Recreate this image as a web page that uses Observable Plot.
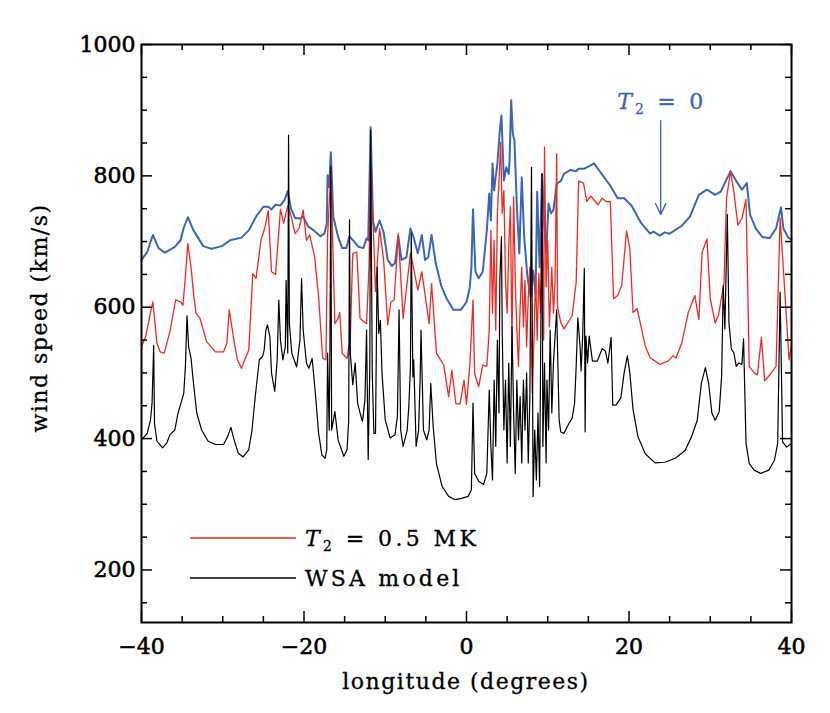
<!DOCTYPE html>
<html><head><meta charset="utf-8">
<script src="https://cdn.jsdelivr.net/npm/d3@7"></script>
<script src="https://cdn.jsdelivr.net/npm/@observablehq/plot@0.6"></script>
<style>body{margin:0;background:#fff} #chart svg{font-family:"DejaVu Serif",serif}</style>
</head><body><div id="chart"></div>
<script>
// T2 = 0 (blue)
const blueLon=[-40.0,-39.3,-38.6,-37.9,-37.1,-35.9,-35.2,-34.8,-34.3,-33.6,-32.4,-31.4,-30.1,-29.1,-27.7,-26.8,-26.2,-25.8,-25.0,-24.4,-24.0,-23.5,-22.9,-22.4,-22.0,-21.6,-21.1,-20.5,-20.1,-19.5,-18.8,-18.0,-17.5,-17.2,-17.1,-16.9,-16.7,-16.4,-15.8,-15.3,-14.8,-14.4,-13.9,-13.3,-12.7,-12.3,-12.1,-11.8,-11.5,-11.2,-10.7,-10.2,-9.7,-9.2,-8.8,-8.4,-8.0,-7.4,-6.9,-6.5,-6.0,-5.5,-5.1,-4.7,-4.3,-3.8,-3.1,-2.4,-1.6,-0.7,0.0,0.4,0.6,0.8,1.1,1.5,2.0,2.5,2.8,3.0,3.2,3.4,3.8,4.1,4.3,4.6,4.9,5.2,5.3,5.5,5.7,5.9,6.2,6.5,6.8,7.1,7.5,7.9,8.2,8.5,8.7,9.0,9.3,9.5,9.8,10.1,10.4,10.7,11.1,11.6,12.0,12.4,12.8,13.5,13.8,14.5,15.0,15.7,16.7,17.7,18.6,19.4,20.3,21.5,22.6,23.0,23.8,24.4,25.0,26.5,27.5,28.6,29.6,30.6,31.3,31.9,32.5,33.2,33.9,34.5,34.9,35.6,36.4,37.3,38.1,38.7,39.0,39.6,40.0];
const blueV=[672,684,710,690,683,692,702,721,737,717,693,689,693,702,706,717,731,740,753,753,749,756,755,763,777,750,736,735,738,723,717,708,712,727,801,783,836,738,707,690,690,708,701,692,690,705,702,874,730,715,732,714,672,663,667,708,672,676,720,706,682,710,672,676,710,668,632,612,596,596,608,630,660,749,654,644,654,717,773,732,819,778,819,869,892,793,813,803,824,915,864,854,753,682,798,707,646,616,656,621,776,661,803,743,682,758,743,748,788,792,803,806,809,807,811,811,814,819,802,785,766,766,755,728,712,715,709,714,712,724,738,771,779,771,776,792,807,792,779,789,741,720,707,705,720,752,720,706,703];
// T2 = 0.5 MK (red)
const redLon=[-40.0,-39.5,-38.9,-38.6,-38.1,-37.7,-37.2,-36.5,-35.8,-35.2,-34.9,-34.6,-34.3,-33.9,-33.6,-33.3,-32.8,-32.0,-30.9,-29.9,-29.5,-29.2,-28.6,-28.2,-27.7,-26.8,-26.3,-25.9,-25.3,-24.8,-24.4,-24.0,-23.5,-22.9,-22.5,-22.0,-21.6,-21.1,-20.6,-20.1,-19.7,-19.3,-18.7,-18.2,-17.7,-17.3,-17.1,-16.9,-16.7,-16.5,-16.2,-15.8,-15.6,-15.3,-14.7,-14.3,-14.0,-13.5,-13.1,-12.3,-12.0,-11.8,-11.4,-11.2,-10.7,-10.2,-9.7,-9.3,-8.9,-8.4,-7.8,-6.9,-6.5,-6.0,-5.5,-4.6,-4.3,-3.7,-2.8,-2.2,-1.8,-1.3,-0.8,-0.3,0.0,0.4,0.8,1.0,1.5,2.0,2.5,2.8,3.0,3.2,3.4,3.6,3.8,4.0,4.2,4.4,4.6,4.8,5.0,5.2,5.4,5.6,5.8,6.0,6.2,6.4,6.6,6.8,7.0,7.2,7.4,7.6,7.8,8.1,8.3,8.5,8.7,8.9,9.1,9.3,9.5,9.6,9.8,10.0,10.2,10.5,10.7,10.9,11.1,11.2,11.6,12.0,13.0,13.5,13.8,14.4,14.8,15.3,16.2,16.7,17.2,17.7,18.1,18.6,19.1,19.7,20.1,20.5,21.0,22.0,22.6,23.8,24.8,25.4,25.8,26.5,27.3,28.1,28.6,29.0,29.6,30.0,30.6,31.0,31.7,32.0,32.5,32.9,33.4,33.9,34.4,34.8,35.4,35.8,36.3,36.7,37.4,38.1,38.6,39.1,39.7,40.0];
const redV=[540,555,591,608,545,532,530,563,611,608,603,646,697,661,621,591,583,548,532,532,545,596,548,520,507,535,651,644,702,722,747,654,650,749,728,754,740,712,720,748,702,710,677,616,522,520,707,758,808,717,575,583,592,530,522,555,682,684,583,575,661,816,697,624,720,672,573,608,611,712,583,682,659,626,654,575,636,530,512,464,504,453,453,489,452,510,611,499,479,512,510,565,717,591,702,565,743,793,851,743,778,641,591,692,753,540,768,641,565,510,601,661,570,641,540,616,661,469,550,651,550,651,591,732,550,844,631,702,570,661,591,641,834,601,577,567,587,638,792,789,761,769,756,766,761,761,613,618,633,716,689,592,598,541,523,513,518,526,523,546,592,618,581,684,704,613,576,587,638,766,807,776,725,735,764,510,500,497,554,488,498,510,736,638,520,543];
// WSA model (black)
const wsaLon=[-40.0,-39.3,-38.9,-38.7,-38.5,-38.4,-38.1,-37.4,-36.9,-36.5,-35.9,-35.5,-35.1,-34.8,-34.6,-34.4,-34.2,-33.9,-33.6,-33.2,-32.6,-31.8,-30.9,-29.9,-29.4,-29.0,-28.6,-28.1,-27.5,-26.8,-26.4,-26.0,-25.5,-25.1,-24.9,-24.7,-24.5,-24.2,-24.0,-23.6,-23.3,-23.1,-22.9,-22.6,-22.3,-22.2,-22.0,-21.9,-21.8,-21.5,-20.9,-20.5,-20.3,-20.1,-19.7,-19.4,-19.0,-18.6,-18.2,-17.8,-17.4,-17.2,-17.1,-16.9,-16.8,-16.7,-16.6,-16.2,-15.8,-15.1,-14.7,-14.5,-14.4,-14.3,-14.0,-13.7,-13.4,-13.1,-12.8,-12.5,-12.3,-12.1,-11.9,-11.8,-11.6,-11.4,-11.2,-11.0,-10.8,-10.6,-10.4,-10.0,-9.4,-8.8,-8.5,-8.3,-8.1,-7.8,-7.3,-7.1,-6.9,-6.8,-6.6,-6.5,-6.2,-5.9,-5.7,-5.6,-5.3,-4.9,-4.6,-4.4,-4.1,-3.7,-3.0,-2.2,-1.4,-0.6,0.2,0.6,0.8,1.0,1.5,2.1,2.5,2.8,3.0,3.2,3.4,3.6,3.8,4.0,4.1,4.3,4.4,4.6,4.8,5.0,5.2,5.4,5.6,5.8,6.0,6.2,6.4,6.6,6.8,7.0,7.2,7.4,7.6,7.8,8.0,8.2,8.4,8.6,8.8,9.0,9.1,9.3,9.4,9.6,9.8,9.9,10.1,10.3,10.5,10.7,11.1,11.4,11.6,12.0,12.6,13.0,13.3,13.5,13.7,14.0,14.1,14.3,14.5,14.6,14.7,14.9,15.1,15.5,16.1,16.7,17.1,17.4,17.8,18.0,18.4,19.0,19.4,19.8,20.1,20.5,21.1,22.0,23.2,24.4,25.7,26.9,27.7,28.4,28.9,29.4,29.8,30.2,30.6,31.1,31.4,31.6,31.8,32.1,32.3,32.6,32.9,33.2,33.5,33.9,34.1,34.4,34.8,35.4,36.2,37.2,37.9,38.3,38.6,38.9,39.4,40.0];
const wsaV=[398,408,428,454,542,423,396,386,393,406,413,439,456,469,509,587,540,522,484,439,413,396,391,391,403,417,398,378,372,383,413,464,520,525,535,565,573,555,500,472,520,611,550,520,540,641,530,862,575,530,509,550,644,565,515,507,522,469,408,375,370,383,530,413,550,815,413,441,398,373,383,428,733,530,482,515,454,439,426,459,565,368,509,870,500,408,408,661,560,580,500,428,401,406,434,596,413,388,413,449,509,712,494,520,388,413,494,565,413,398,413,484,418,362,327,312,307,309,312,322,454,347,335,330,347,474,388,337,489,388,550,439,641,707,560,413,489,363,515,388,570,439,347,489,398,464,363,489,413,500,363,464,813,312,413,337,439,327,489,803,388,515,363,489,413,565,439,515,596,428,410,408,423,431,454,510,584,536,503,556,659,410,556,515,556,518,518,537,533,515,554,451,451,462,500,526,500,444,403,377,363,364,370,382,403,428,484,508,484,439,428,441,495,633,567,741,577,536,531,510,515,513,552,393,362,352,347,352,367,393,623,395,387,393];

// ticks
const xMajor=[-40,-20,0,20,40];
const xMinor=[-35,-30,-25,-15,-10,-5,5,10,15,25,30,35];
const yMajor=[200,400,600,800,1000];
const yMinor=[150,250,300,350,450,500,550,650,700,750,850,900,950];
// annotation arrow
const arrowLon=[23.9], arrowFrom=[884], arrowTo=[741];

const rows=(lon,v)=>lon.map((x,i)=>({x,y:v[i]}));
const W=830,H=713,mL=141,mR=39,mT=44,mB=91;
const iW=W-mL-mR, iH=H-mT-mB;
const BIG=11, SMALL=6;
const BLUE="#3b66b6", RED="#ee2a24";
const fmt=d=>d<0?"\u2212"+Math.abs(d):String(d);
const THICK=0.3;

const plot=Plot.plot({
  width:W,height:H,marginLeft:mL,marginRight:mR,marginTop:mT,marginBottom:mB,
  style:{fontFamily:'"DejaVu Serif", serif',background:"#fff",overflow:"visible"},
  x:{domain:[-40,40]},
  y:{domain:[120,1000]},
  marks:[
    Plot.line(rows(blueLon,blueV),{x:"x",y:"y",stroke:BLUE,strokeWidth:2}),
    Plot.line(rows(redLon,redV),{x:"x",y:"y",stroke:RED,strokeWidth:1.3}),
    Plot.line(rows(wsaLon,wsaV),{x:"x",y:"y",stroke:"#000",strokeWidth:1.2}),
    Plot.arrow(arrowLon.map((x,i)=>({x,y1:arrowFrom[i],y2:arrowTo[i]})),{x1:"x",x2:"x",y1:"y1",y2:"y2",stroke:BLUE,strokeWidth:1.3,headLength:14,headAngle:50}),
    // ticks inward
    Plot.ruleX(xMajor,{x:d=>d,insetTop:iH-BIG,stroke:"#000",strokeWidth:1.5}),
    Plot.ruleX(xMajor,{x:d=>d,insetBottom:iH-BIG,stroke:"#000",strokeWidth:1.5}),
    Plot.ruleX(xMinor,{x:d=>d,insetTop:iH-SMALL,stroke:"#000",strokeWidth:1.5}),
    Plot.ruleX(xMinor,{x:d=>d,insetBottom:iH-SMALL,stroke:"#000",strokeWidth:1.5}),
    Plot.ruleY(yMajor,{y:d=>d,insetRight:iW-BIG,stroke:"#000",strokeWidth:1.5}),
    Plot.ruleY(yMajor,{y:d=>d,insetLeft:iW-BIG,stroke:"#000",strokeWidth:1.5}),
    Plot.ruleY(yMinor,{y:d=>d,insetRight:iW-SMALL,stroke:"#000",strokeWidth:1.5}),
    Plot.ruleY(yMinor,{y:d=>d,insetLeft:iW-SMALL,stroke:"#000",strokeWidth:1.5}),
    Plot.frame({stroke:"#000",strokeWidth:2}),
    Plot.axisX(xMajor,{tickSize:0,tickPadding:16,fontSize:22,label:null,tickFormat:fmt,fill:"#000"}),
    Plot.axisY(yMajor,{tickSize:0,tickPadding:6,fontSize:22,label:null,tickFormat:fmt,fill:"#000"})
  ]
});
document.getElementById("chart").append(plot);

const svg=d3.select(plot);
// slightly heavier tick labels, like the reference
svg.selectAll("g[aria-label$='tick label'] text").attr("stroke","#000").attr("stroke-width",0.6);
const xs=plot.scale("x");
const g=svg.append("g").attr("font-family",'"DejaVu Serif", serif').attr("fill","#000").attr("text-anchor","start");
const txt=(sel,color)=>sel.attr("stroke",color).attr("stroke-width",THICK).attr("fill",color);
// axis titles
txt(g.append("text").attr("x",466).attr("y",689).attr("text-anchor","middle").attr("font-size",22).attr("letter-spacing",1.5),"#000").text("longitude (degrees)");
txt(g.append("text").attr("transform","translate(47,318) rotate(-90)").attr("text-anchor","middle").attr("font-size",22).attr("letter-spacing",1.5),"#000").text("wind speed (km/s)");
// T2 = 0 label
const ax=xs.apply(arrowLon[0]);
const t0=txt(g.append("text").attr("x",ax-43).attr("y",109).attr("text-anchor","start").attr("font-size",22).attr("letter-spacing",3.2),BLUE);
t0.append("tspan").attr("font-style","italic").text("T");
t0.append("tspan").attr("font-size",14).attr("dy",5).text("2");
t0.append("tspan").attr("dy",-5).text(" = 0");
// legend
const lg=[{c:RED,y:538},{c:"#000",y:578}];
lg.forEach(d=>g.append("line").attr("x1",190).attr("x2",296).attr("y1",d.y).attr("y2",d.y).attr("stroke",d.c).attr("stroke-width",1.3));
const t1=txt(g.append("text").attr("x",305).attr("y",546).attr("text-anchor","start").attr("font-size",22).attr("letter-spacing",3.4),"#000");
t1.append("tspan").attr("font-style","italic").text("T");
t1.append("tspan").attr("font-size",14).attr("dy",5).text("2");
t1.append("tspan").attr("dy",-5).text(" = 0.5 MK");
txt(g.append("text").attr("x",305).attr("y",586).attr("text-anchor","start").attr("font-size",22).attr("letter-spacing",3.2),"#000").text("WSA model");
</script></body></html>
